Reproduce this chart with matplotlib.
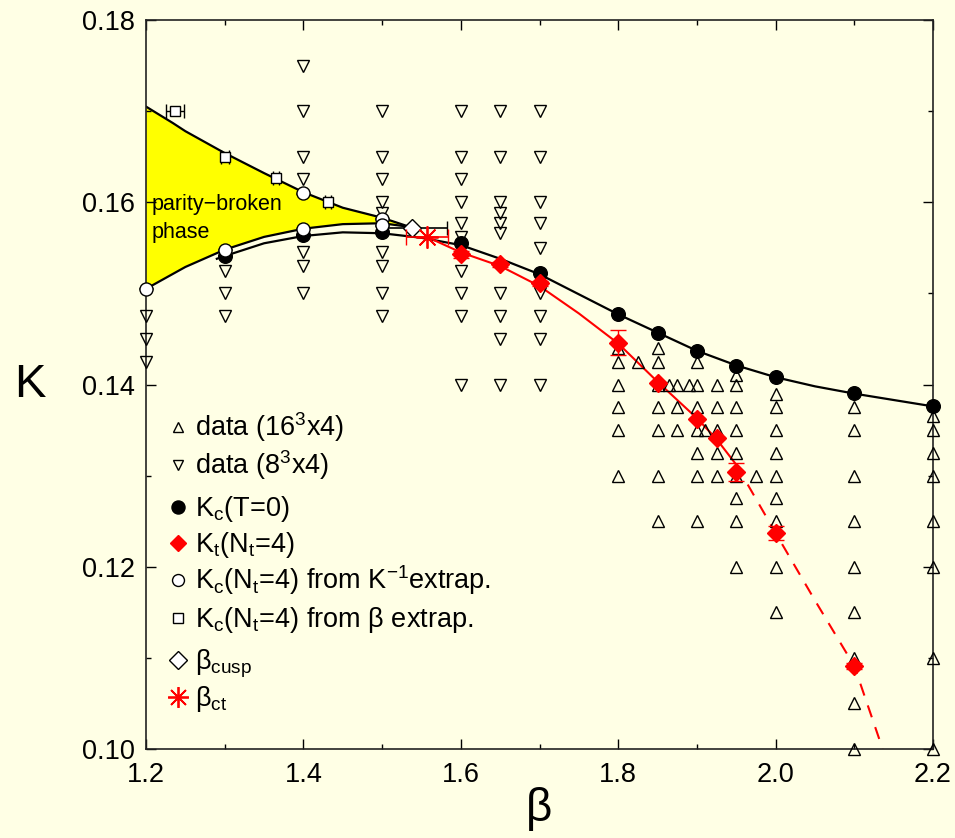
import matplotlib.pyplot as plt
import numpy as np

plt.rcParams['font.family'] = ['Liberation Sans', 'DejaVu Sans']
plt.rcParams['mathtext.fontset'] = 'custom'
plt.rcParams['mathtext.rm'] = 'Liberation Sans'
plt.rcParams['mathtext.it'] = 'Liberation Sans:italic'
plt.rcParams['mathtext.default'] = 'regular'

bg = '#FFFFE5'

# data (8^3x4) runs, downward triangles
b8 = [1.2]*3 + [1.3]*3 + [1.4]*7 + [1.5]*9 + [1.6]*10 + [1.65]*10 + [1.7]*9
k8 = [0.1475, 0.145, 0.1425,
      0.1525, 0.15, 0.1475,
      0.175, 0.17, 0.165, 0.1625, 0.1545, 0.153, 0.15,
      0.17, 0.165, 0.1625, 0.16, 0.1588, 0.1545, 0.153, 0.15, 0.1475,
      0.17, 0.165, 0.1625, 0.16, 0.1577, 0.1562, 0.1525, 0.15, 0.1475, 0.14,
      0.17, 0.165, 0.16, 0.1588, 0.1577, 0.1566, 0.15, 0.1475, 0.145, 0.14,
      0.17, 0.165, 0.16, 0.1577, 0.155, 0.15, 0.1475, 0.145, 0.14]

# data (16^3x4) runs, upward triangles
b16 = ([1.8]*6 + [1.825] + [1.85]*7 + [1.865] + [1.875]*3 + [1.89] + [1.9]*7 + [1.91]
       + [1.925]*5 + [1.95]*9 + [1.975] + [2.0]*9 + [2.1]*9 + [2.2]*8)
k16 = [0.144, 0.1425, 0.14, 0.1375, 0.135, 0.13,
       0.1425,
       0.144, 0.1425, 0.14, 0.1375, 0.135, 0.13, 0.125,
       0.14,
       0.14, 0.1375, 0.135,
       0.14,
       0.1425, 0.14, 0.1375, 0.135, 0.1325, 0.13, 0.125,
       0.135,
       0.14, 0.1375, 0.135, 0.1325, 0.13,
       0.141, 0.14, 0.1375, 0.135, 0.1325, 0.13, 0.1275, 0.125, 0.12,
       0.13,
       0.139, 0.1375, 0.135, 0.1325, 0.13, 0.1275, 0.125, 0.12, 0.115,
       0.1375, 0.135, 0.13, 0.125, 0.12, 0.115, 0.11, 0.105, 0.10,
       0.1365, 0.135, 0.1325, 0.13, 0.125, 0.12, 0.11, 0.10]

# Kc(T=0)
bc0 = [1.3, 1.4, 1.5, 1.6, 1.7, 1.8, 1.85, 1.9, 1.95, 2.0, 2.1, 2.2]
kc0 = [0.1541, 0.1564, 0.1567, 0.1555, 0.1522, 0.1477, 0.1457, 0.1437, 0.1420, 0.1408, 0.1391, 0.1376]

# Kt(Nt=4)
bt = [1.6, 1.65, 1.7, 1.8, 1.85, 1.9, 1.925, 1.95, 2.0, 2.1]
kt = [0.1543, 0.1532, 0.1511, 0.1446, 0.1402, 0.1362, 0.1341, 0.1304, 0.1237, 0.1091]
kt_err = [0.0004, 0.0003, 0.0003, 0.0014, 0.0001, 0.0001, 0.0001, 0.001, 0.0008, 0.0003]

# Kc(Nt=4) from 1/K extrapolation
binv = [1.2, 1.3, 1.4, 1.4, 1.5, 1.5]
kinv = [0.1505, 0.1548, 0.1610, 0.1571, 0.1582, 0.1575]

# Kc(Nt=4) from beta extrapolation
bext = [1.237, 1.3, 1.365, 1.431, 1.5]
kext = [0.1700, 0.1650, 0.1627, 0.1600, 0.1578]
bext_err = [0.0115, 0.005, 0.004, 0.004, 0.003]

b_cusp, k_cusp, cusp_err = 1.538, 0.1572, 0.045
b_ct, k_ct, ct_err = 1.557, 0.1562, 0.027

# boundaries of the parity-broken phase
up_b = [1.2, 1.234, 1.25, 1.3, 1.35, 1.4, 1.45, 1.5, 1.535]
up_k = [0.1705, 0.1687, 0.1678, 0.1654, 0.1632, 0.1611, 0.1594, 0.1583, 0.1573]
lo_b = [1.2, 1.25, 1.3, 1.35, 1.4, 1.45, 1.5, 1.535]
lo_k = [0.1505, 0.1529, 0.1548, 0.1562, 0.1571, 0.1576, 0.1577, 0.1573]

# fitted Kc(T=0) curve
fc_b = [1.29, 1.3, 1.35, 1.4, 1.45, 1.5, 1.55, 1.6, 1.65, 1.7, 1.75, 1.8, 1.85, 1.9, 1.95, 2.0, 2.05, 2.1, 2.15, 2.2]
fc_k = [0.1538, 0.1541, 0.1555, 0.1563, 0.1567, 0.1566, 0.1561, 0.1553, 0.1538, 0.1521, 0.1499, 0.1477,
        0.1457, 0.1437, 0.1421, 0.1408, 0.1398, 0.1390, 0.1383, 0.1376]

# fitted Kt curve, solid then dashed extrapolation
ft_b = [1.557, 1.6, 1.65, 1.7, 1.75, 1.8, 1.85, 1.9, 1.925, 1.95]
ft_k = [0.1562, 0.1545, 0.1530, 0.1508, 0.1478, 0.1445, 0.1403, 0.1363, 0.1340, 0.1312]
fd_b = [1.95, 2.0, 2.05, 2.1, 2.136]
fd_k = [0.1312, 0.1237, 0.1163, 0.1091, 0.100]

fig = plt.figure(figsize=(9.55, 8.38), dpi=100, facecolor=bg)
ax = fig.add_axes([0.1529, 0.1062, 0.8241, 0.8699], facecolor=bg)

ax.fill(up_b + lo_b[::-1], up_k + lo_k[::-1], color='#FFFF00', lw=0, zorder=1)
ax.plot(up_b, up_k, color='k', lw=1.6, zorder=2)
ax.plot(lo_b, lo_k, color='k', lw=1.6, zorder=2)
ax.plot(fc_b, fc_k, color='k', lw=1.6, zorder=2)
ax.plot(ft_b, ft_k, color='red', lw=1.5, zorder=2)
ax.plot(fd_b, fd_k, color='red', lw=1.5, ls=(0, (6, 5)), zorder=2)

tri = dict(ls='none', mfc='none', mec='k', mew=1.0, ms=8.6, clip_on=False)
ax.plot(b8, k8, marker='v', zorder=3, **tri)
ax.plot(b16, k16, marker='^', zorder=3, **tri)

ax.errorbar(bc0, kc0, yerr=0.00005, fmt='o', color='k', ms=9.8, capsize=5, elinewidth=1,
            zorder=5, clip_on=False)
ax.errorbar(bext, kext, xerr=bext_err, fmt='s', mfc='white', mec='k', ecolor='k', ms=7.8,
            mew=1.0, capsize=5, elinewidth=1, zorder=5)
ax.errorbar(binv, kinv, yerr=0.00005, fmt='o', mfc='white', mec='k', ecolor='k', ms=9.4,
            mew=1.0, capsize=5, elinewidth=1, zorder=6, clip_on=False)
ax.errorbar(bt, kt, yerr=kt_err, fmt='D', color='red', ms=8.7, capsize=6, elinewidth=1, zorder=6)
ax.errorbar([b_cusp], [k_cusp], xerr=cusp_err, fmt='D', mfc='white', mec='k', ecolor='k', ms=9,
            mew=1.0, capsize=5, elinewidth=1.2, zorder=6)
ax.errorbar([b_ct], [k_ct], xerr=ct_err, fmt='none', ecolor='red', capsize=6, elinewidth=1.2, zorder=7)
ax.plot([b_ct], [k_ct], ls='none', marker=(8, 2, 0), color='red', ms=16, mew=1.3, zorder=7)

ax.text(1.207, 0.1582, 'parity\u2212broken\nphase', fontsize=15.5, ha='left', va='center',
        linespacing=1.45, zorder=8)

# legend, drawn row by row
rows = [
    (dict(marker='^', mfc='none', mec='k', ms=7.5, mew=1.0), 'data (16$^3$x4)'),
    (dict(marker='v', mfc='none', mec='k', ms=7.5, mew=1.0), 'data (8$^3$x4)'),
    (dict(marker='o', color='k', ms=9.4), 'K$_c$(T=0)'),
    (dict(marker='D', color='red', ms=8.5), 'K$_t$(N$_t$=4)'),
    (dict(marker='o', mfc='white', mec='k', ms=8.6, mew=1.0), 'K$_c$(N$_t$=4) from K$^{-1}$extrap.'),
    (dict(marker='s', mfc='white', mec='k', ms=7.5, mew=1.0), 'K$_c$(N$_t$=4) from \u03b2 extrap.'),
    (dict(marker='D', mfc='white', mec='k', ms=9.5, mew=1.0), '\u03b2$_{cusp}$'),
    (dict(marker=(8, 2, 0), color='red', ms=15, mew=1.3), '\u03b2$_{ct}$'),
]
row_y = [0.4417, 0.3896, 0.332, 0.2826, 0.2318, 0.1797, 0.1221, 0.0713]
for (style, label), y in zip(rows, row_y):
    ax.plot([0.0407], [y], ls='none', transform=ax.transAxes, zorder=8, **style)
    ax.text(0.0623, y - 0.0125, label, transform=ax.transAxes, fontsize=19.5,
            ha='left', va='baseline', zorder=8)

ax.set_xlim(1.2, 2.2)
ax.set_ylim(0.10, 0.18)
ax.set_xticks(np.arange(1.2, 2.21, 0.2))
ax.set_xticklabels(['1.2', '1.4', '1.6', '1.8', '2.0', '2.2'])
ax.set_xticks(np.arange(1.3, 2.2, 0.2), minor=True)
ax.set_yticks([0.10, 0.12, 0.14, 0.16, 0.18])
ax.set_yticklabels(['0.10', '0.12', '0.14', '0.16', '0.18'])
ax.set_yticks([0.11, 0.13, 0.15, 0.17], minor=True)
ax.tick_params(which='both', direction='in', top=True, right=True, width=1.0, labelsize=19.5)
ax.tick_params(which='major', length=7.5)
ax.tick_params(which='minor', length=3.8)
ax.tick_params(axis='x', pad=9)
ax.tick_params(axis='y', pad=8)
for s in ax.spines.values():
    s.set_linewidth(1.2)
    s.set_color('#222222')

ax.set_xlabel('\u03b2', fontsize=33)
ax.xaxis.set_label_coords(0.5, -0.052)
ax.set_ylabel('K', fontsize=34, rotation=0, ha='center', va='center')
ax.yaxis.set_label_coords(-0.147, 0.5)

fig.savefig('out.png', dpi=100, facecolor=bg)
